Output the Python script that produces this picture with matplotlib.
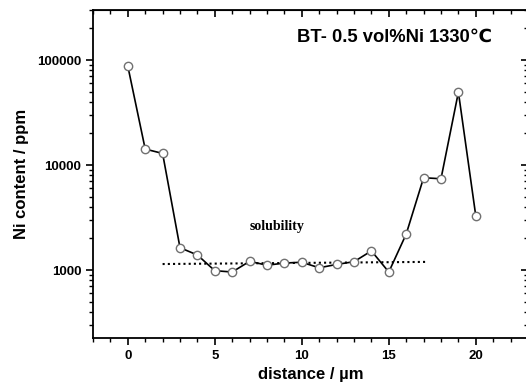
import matplotlib
matplotlib.use("Agg")
import matplotlib.pyplot as plt
from matplotlib.ticker import MultipleLocator, LogLocator, NullFormatter, FixedLocator

# Ni content profile across the grain
distance = [0, 1, 2, 3, 4, 5, 6, 7, 8, 9, 10, 11, 12, 13, 14, 15, 16, 17, 18, 19, 20]
ni_ppm = [87700, 14200, 12900, 1630, 1390, 985, 957, 1210, 1110, 1165, 1185,
          1050, 1130, 1200, 1520, 957, 2200, 7570, 7400, 49500, 3270]

# dotted solubility level
sol_x = [2.0, 17.2]
sol_y = [1140, 1195]

yticks = [1000, 10000, 100000]
ytick_labels = ["1000", "10000", "100000"]
xticks = [0, 5, 10, 15, 20]

plt.rcParams["font.family"] = ["Liberation Sans", "DejaVu Sans"]
plt.rcParams["font.weight"] = "bold"

fig = plt.figure(figsize=(5.26, 3.91), dpi=100)
# right spine sits just past the picture edge, as in the original
ax = fig.add_axes([93 / 526, 53 / 391, 435 / 526, 328 / 391])

ax.plot(distance, ni_ppm, color="black", lw=1.2, marker="o", ms=6,
        mfc="white", mec="#707070", mew=1.0, zorder=3, clip_on=False)
ax.plot(sol_x, sol_y, color="black", lw=1.5, ls=(0, (1, 1.5)), zorder=2)

ax.set_yscale("log")
ax.set_xlim(-2, 23)
ax.set_ylim(225, 3e5)

ax.xaxis.set_major_locator(FixedLocator(xticks))
ax.xaxis.set_minor_locator(MultipleLocator(1))
ax.set_yticks(yticks)
ax.set_yticklabels(ytick_labels)
ax.yaxis.set_minor_locator(LogLocator(base=10, subs=range(2, 10)))
ax.yaxis.set_minor_formatter(NullFormatter())

ax.tick_params(which="major", direction="out", length=5, width=1.2, labelsize=9.5)
ax.tick_params(which="minor", direction="out", length=3, width=1.0)
for lab in ax.get_xticklabels() + ax.get_yticklabels():
    lab.set_fontweight("bold")
for s in ax.spines.values():
    s.set_linewidth(1.3)

# mirrored ticks pointing inward on top and right
top = ax.secondary_xaxis("top")
top.xaxis.set_major_locator(FixedLocator(xticks))
top.xaxis.set_minor_locator(MultipleLocator(1))
top.tick_params(which="major", direction="in", length=5, width=1.2, labeltop=False)
top.tick_params(which="minor", direction="in", length=3, width=1.0)
right = ax.secondary_yaxis("right")
right.set_yticks(yticks)
right.yaxis.set_minor_locator(LogLocator(base=10, subs=range(2, 10)))
right.tick_params(which="major", direction="in", length=5, width=1.2, labelright=False)
right.tick_params(which="minor", direction="in", length=3, width=1.0, labelright=False)
right.yaxis.set_minor_formatter(NullFormatter())

ax.set_xlabel("distance / µm", fontsize=12, fontweight="bold", labelpad=4)
ax.set_ylabel("Ni content / ppm", fontsize=12, fontweight="bold", labelpad=6)

ax.text(0.918, 0.918, "BT- 0.5 vol%Ni 1330℃", transform=ax.transAxes,
        ha="right", va="center", fontsize=13.2, fontweight="bold")
ax.text(8.6, 2580, "solubility", ha="center", va="center", fontsize=10,
        fontweight="bold", family=["Liberation Serif", "DejaVu Serif"])

fig.savefig("out.png", dpi=100)
